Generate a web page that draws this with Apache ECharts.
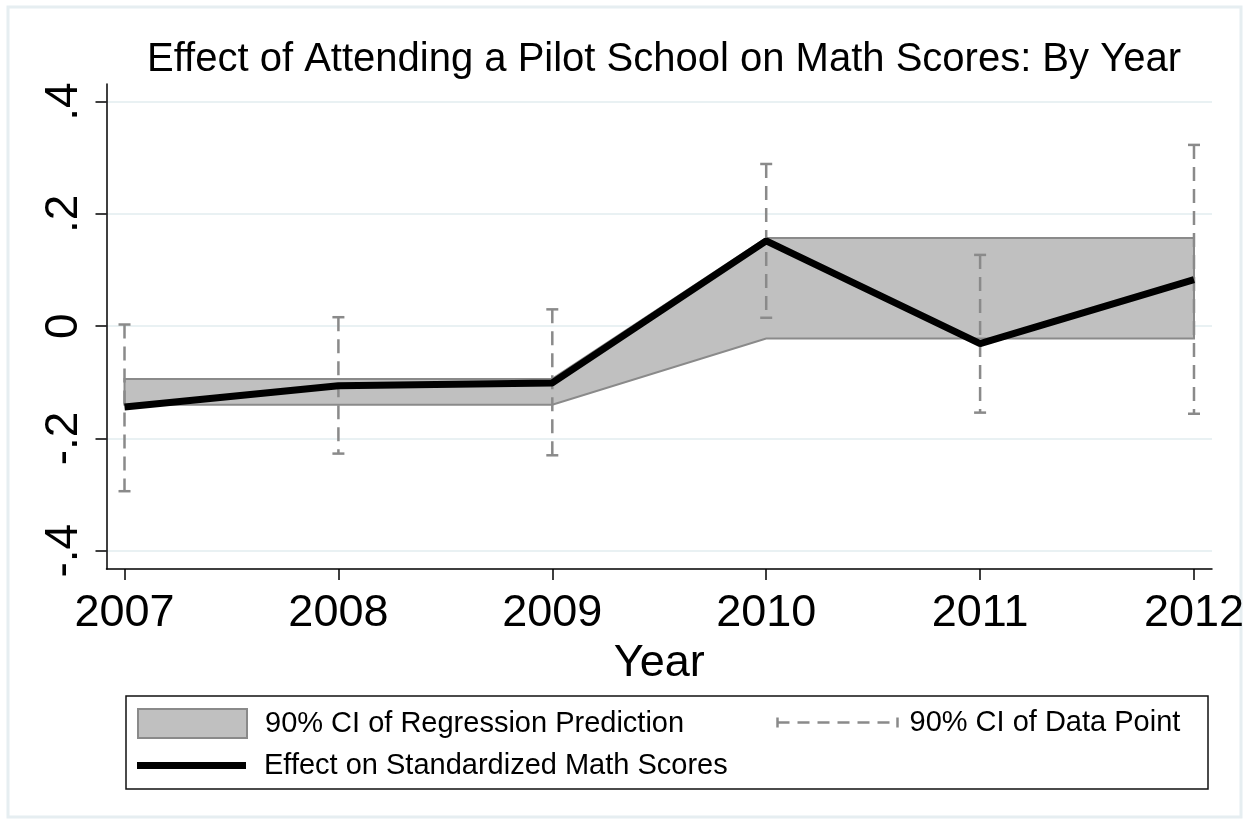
<!DOCTYPE html>
<html>
<head>
<meta charset="utf-8">
<script src="https://cdn.jsdelivr.net/npm/echarts@6/dist/echarts.min.js"></script>
<style>
  html, body { margin: 0; padding: 0; background: #fff; }
  #chart { width: 1257px; height: 825px; }
</style>
</head>
<body>
<div id="chart"></div>
<script>
// Survey years
const years = [2007, 2008, 2009, 2010, 2011, 2012];
// Point estimates of the effect on standardized math scores
const effect = [-0.144, -0.106, -0.101, 0.152, -0.031, 0.083];
// 90% CI of each yearly estimate
const ciDataLow  = [-0.294, -0.227, -0.230, 0.015, -0.154, -0.156];
const ciDataHigh = [0.003, 0.016, 0.030, 0.289, 0.127, 0.323];
// 90% CI of the regression prediction (pre / post 2010)
const predLow  = [-0.140, -0.140, -0.140, -0.022, -0.022, -0.022];
const predHigh = [-0.094, -0.094, -0.094, 0.157, 0.157, 0.157];
// Axis tick values
const yTicks = [-0.4, -0.2, 0, 0.2, 0.4];
const xTicks = years;

const FONT = '"Liberation Sans", Arial, Helvetica, sans-serif';
const NAME_BAND = '90% CI of Regression Prediction';
const NAME_BARS = '90% CI of Data Point';
const NAME_LINE = 'Effect on Standardized Math Scores';

function stataNum(v) {
  if (Math.abs(v) < 1e-9) return '0';
  const s = Math.abs(v).toFixed(1).replace(/^0/, '');
  return (v < 0 ? '-' : '') + s;
}

const chart = echarts.init(document.getElementById('chart'), null, { renderer: 'canvas' });

const option = {
  animation: false,
  backgroundColor: '#ffffff',
  textStyle: { fontFamily: FONT, color: '#000' },
  title: {
    text: 'Effect of Attending a Pilot School on Math Scores: By Year',
    left: 664,
    top: 40,
    padding: 0,
    textAlign: 'center',
    textStyle: { fontFamily: FONT, fontSize: 40, fontWeight: 'normal', color: '#000' }
  },
  graphic: [
    {
      type: 'rect',
      silent: true,
      shape: { x: 8, y: 7, width: 1233, height: 810 },
      style: { fill: 'none', stroke: '#e6eef1', lineWidth: 3 },
      z: -10
    },
    {
      type: 'rect',
      silent: true,
      shape: { x: 126, y: 696, width: 1082, height: 93 },
      style: { fill: '#fff', stroke: '#111', lineWidth: 1.5 },
      z: -5
    }
  ],
  legend: [
    {
      data: [{
        name: NAME_BAND,
        icon: 'rect',
        itemStyle: { color: '#c0c0c0', borderColor: '#8a8a8a', borderWidth: 2 }
      }],
      left: 137, top: 708, padding: 0,
      itemWidth: 109, itemHeight: 29,
      selectedMode: false,
      textStyle: { fontFamily: FONT, fontSize: 29, color: '#000', padding: [0, 0, 0, 13] }
    },
    {
      data: [{
        name: NAME_BARS,
        icon: 'path://M0,0 L0,10 M0,5 L120,5 M120,0 L120,10',
        itemStyle: { color: 'none', borderColor: '#8a8a8a', borderWidth: 2.5, borderType: [12, 8] }
      }],
      left: 775, top: 708, padding: 0,
      itemWidth: 120, itemHeight: 10,
      symbolKeepAspect: false,
      selectedMode: false,
      textStyle: { fontFamily: FONT, fontSize: 29, color: '#000', padding: [0, 0, 0, 7] }
    },
    {
      data: [{
        name: NAME_LINE,
        icon: 'rect',
        itemStyle: { color: '#000', borderWidth: 0 }
      }],
      left: 137, top: 751, padding: 0,
      itemWidth: 109, itemHeight: 7,
      selectedMode: false,
      textStyle: { fontFamily: FONT, fontSize: 29, color: '#000', padding: [0, 0, 0, 13] }
    }
  ],
  grid: {
    left: 106.5,
    right: 45,
    top: 84,
    bottom: 256,
    containLabel: false
  },
  xAxis: {
    type: 'value',
    min: 2006.9158,
    max: 2012.0842,
    name: 'Year',
    nameLocation: 'middle',
    nameGap: 63,
    nameTextStyle: { fontFamily: FONT, fontSize: 45, color: '#000' },
    axisLine: { show: true, onZero: false, lineStyle: { color: '#000', width: 1.5 } },
    axisTick: { show: true, length: 11, lineStyle: { color: '#000', width: 1.5 }, customValues: xTicks },
    axisLabel: {
      customValues: xTicks,
      margin: 22,
      fontFamily: FONT, fontSize: 45, color: '#000',
      formatter: v => String(Math.round(v))
    },
    splitLine: { show: false }
  },
  yAxis: {
    type: 'value',
    min: -0.4326,
    max: 0.4315,
    axisLine: { show: true, onZero: false, lineStyle: { color: '#000', width: 1.5 } },
    axisTick: { show: true, length: 11, lineStyle: { color: '#000', width: 1.5 }, customValues: yTicks },
    axisLabel: {
      customValues: yTicks,
      rotate: 90,
      margin: 19,
      fontFamily: FONT, fontSize: 46, color: '#000',
      formatter: v => stataNum(v)
    },
    splitLine: { show: true, lineStyle: { color: '#e9f1f3', width: 2 } }
  },
  series: [
    {
      // shaded prediction interval drawn as one closed polygon
      name: NAME_BAND,
      type: 'custom',
      coordinateSystem: 'cartesian2d',
      data: years.map((y, i) => [y, predLow[i], predHigh[i]]),
      encode: { x: 0, y: [1, 2] },
      renderItem: function (params, api) {
        if (params.dataIndexInside !== 0) return null;
        const pts = [];
        for (let i = 0; i < years.length; i++) pts.push(api.coord([years[i], predHigh[i]]));
        for (let i = years.length - 1; i >= 0; i--) pts.push(api.coord([years[i], predLow[i]]));
        return {
          type: 'polygon',
          shape: { points: pts },
          style: { fill: '#c0c0c0', stroke: '#8a8a8a', lineWidth: 2 }
        };
      },
      z: 1
    },
    {
      // dashed capped intervals for each yearly estimate
      name: NAME_BARS,
      type: 'custom',
      coordinateSystem: 'cartesian2d',
      data: years.map((y, i) => [y, ciDataLow[i], ciDataHigh[i]]),
      encode: { x: 0, y: [1, 2] },
      renderItem: function (params, api) {
        const hi = api.coord([api.value(0), api.value(2)]);
        const lo = api.coord([api.value(0), api.value(1)]);
        const cap = 6;
        const stroke = '#8a8a8a';
        return {
          type: 'group',
          children: [
            {
              type: 'line',
              shape: { x1: hi[0], y1: hi[1], x2: lo[0], y2: lo[1] },
              style: { stroke: stroke, lineWidth: 2.5, lineDash: [14, 8] }
            },
            {
              type: 'line',
              shape: { x1: hi[0] - cap, y1: hi[1], x2: hi[0] + cap, y2: hi[1] },
              style: { stroke: stroke, lineWidth: 2.5 }
            },
            {
              type: 'line',
              shape: { x1: lo[0] - cap, y1: lo[1], x2: lo[0] + cap, y2: lo[1] },
              style: { stroke: stroke, lineWidth: 2.5 }
            }
          ]
        };
      },
      z: 2
    },
    {
      name: NAME_LINE,
      type: 'line',
      data: years.map((y, i) => [y, effect[i]]),
      showSymbol: false,
      symbol: 'none',
      lineStyle: { color: '#000', width: 7 },
      itemStyle: { color: '#000' },
      z: 3
    }
  ]
};

chart.setOption(option);
</script>
</body>
</html>
